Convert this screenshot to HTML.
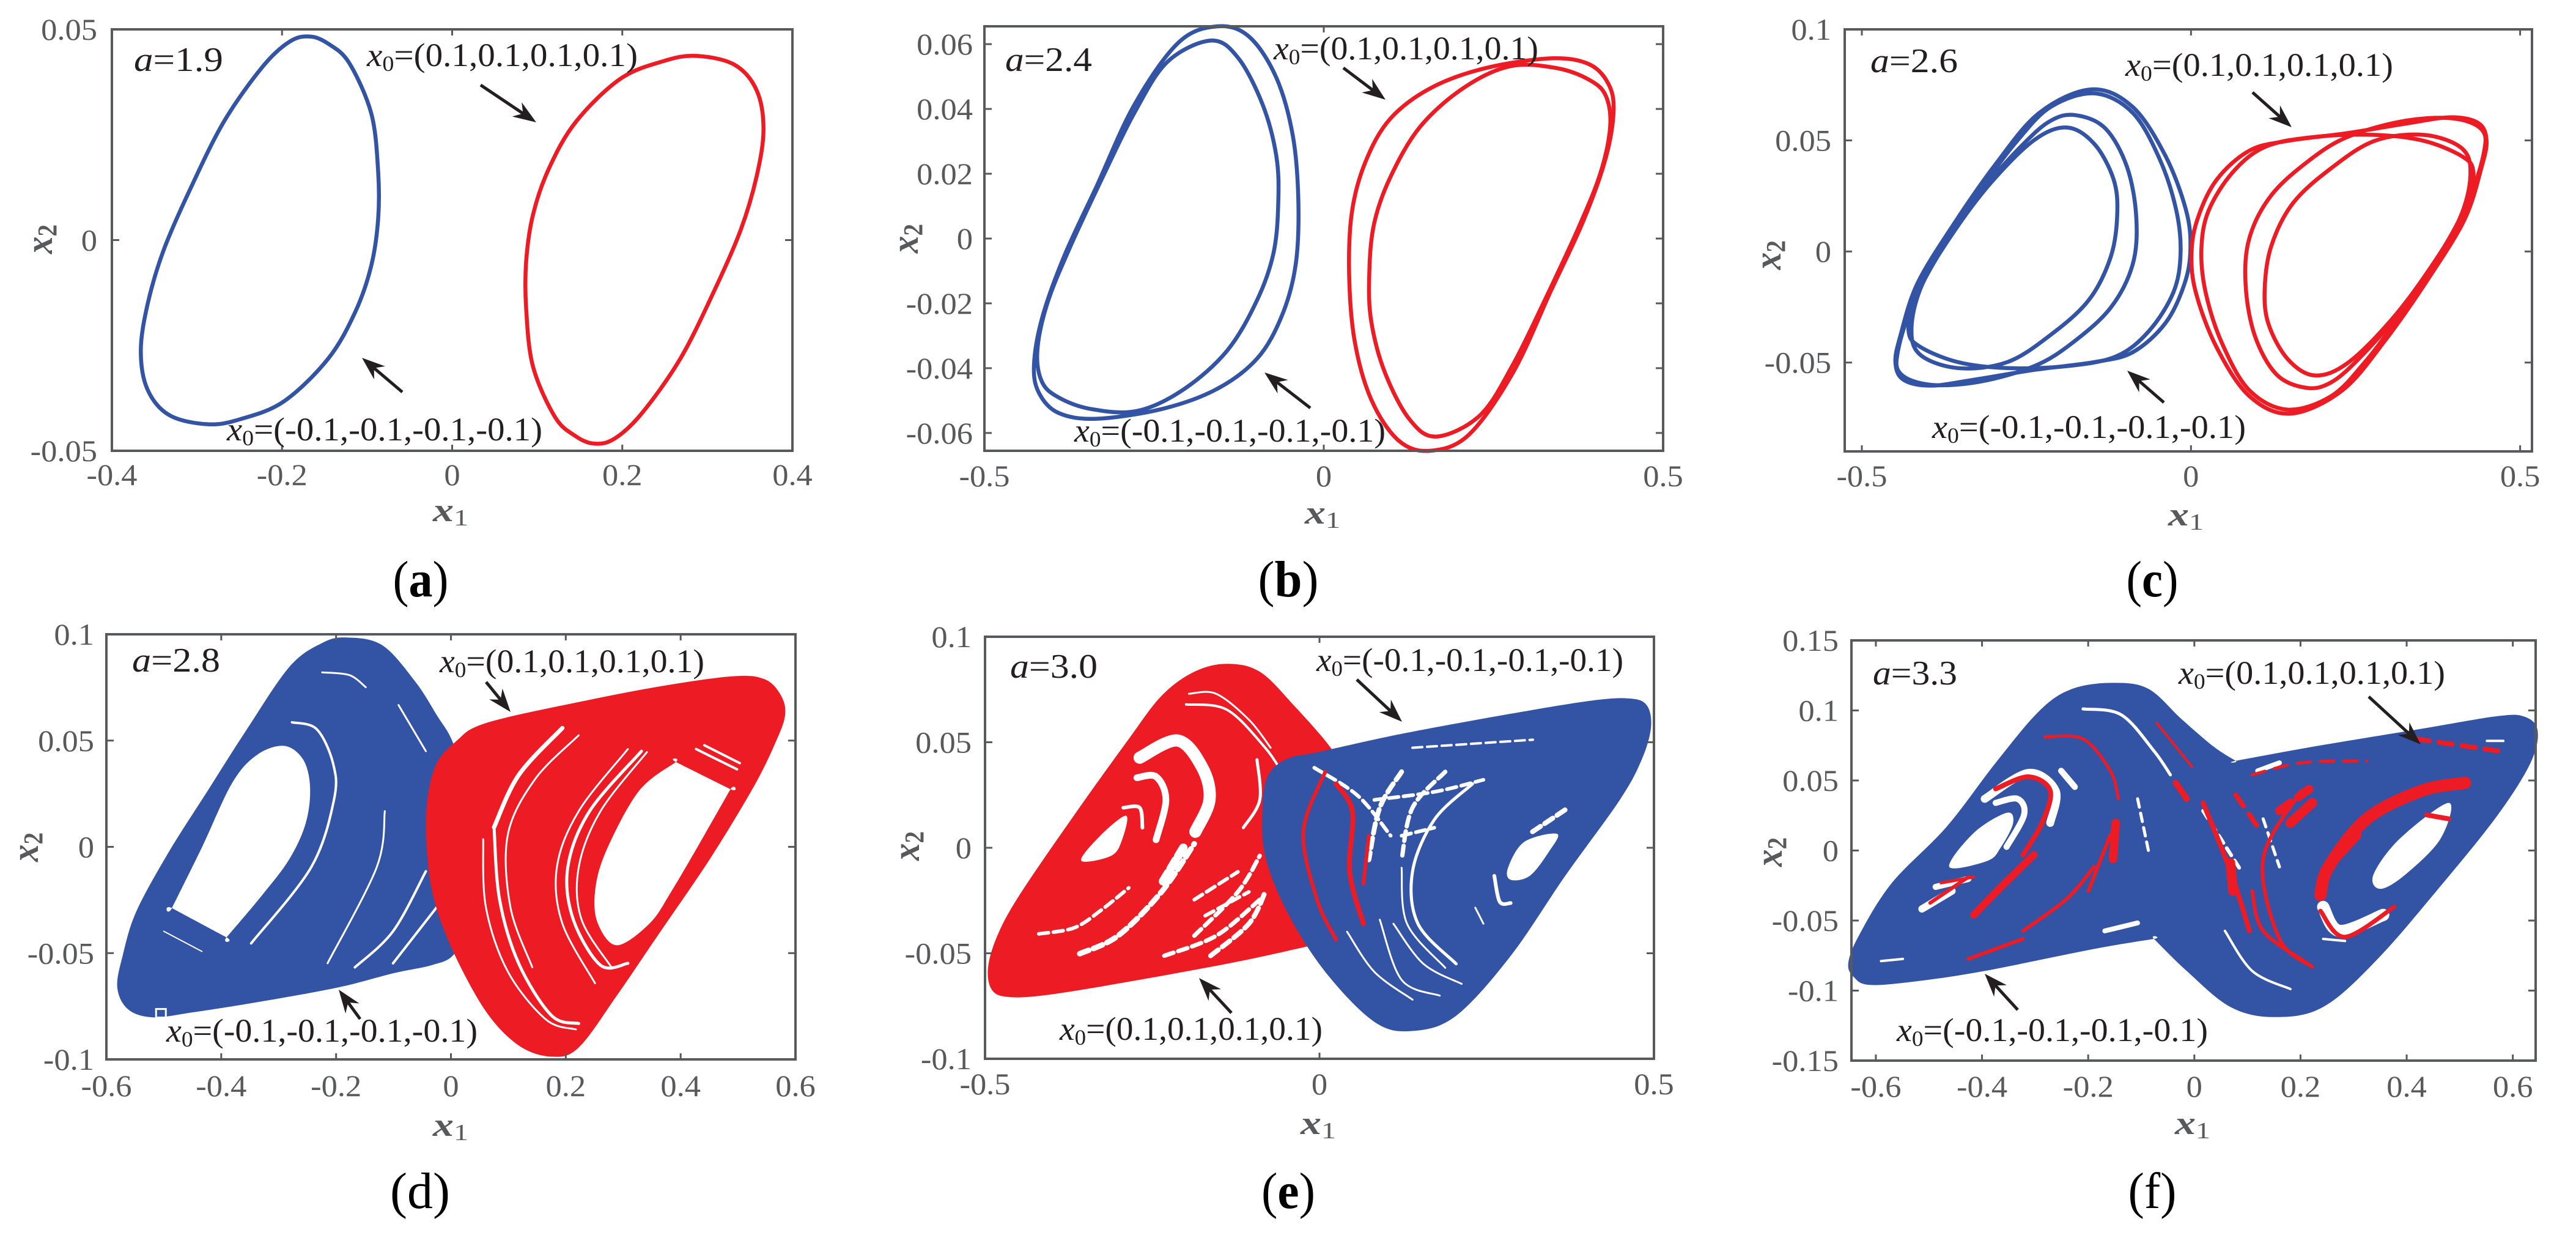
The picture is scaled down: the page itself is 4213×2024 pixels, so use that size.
<!DOCTYPE html>
<html lang="en">
<head>
<meta charset="utf-8">
<title>Phase portraits of x1 and x2 for different values of a</title>
<style>
html,body{margin:0;padding:0;background:#fff;}
svg{display:block;}
text{font-family:"Liberation Serif",serif;}
</style>
</head>
<body>
<svg id="figure" xmlns="http://www.w3.org/2000/svg" width="4213" height="2024" viewBox="0 0 4213 2024"></svg>
<script>
/* ---------- panel (a) ---------- */
const aXTicks=[-0.4,-0.2,0,0.2,0.4];
const aXTickLabels=['-0.4','-0.2','0','0.2','0.4'];
const aYTicks=[0.05,0,-0.05];
const aYTickLabels=['0.05','0','-0.05'];
const aBlueX=[-.167,-.145,-.121,-.095,-.087,-.087,-.095,-.114,-.146,-.198,-.249,-.287,-.332,-.358,-.366,-.358,-.339,-.307,-.268,-.223,-.191];
const aBlueY=[.0483,.0465,.042,.03,.0162,.0051,-.006,-.0171,-.0282,-.0383,-.0425,-.0437,-.0416,-.0355,-.0263,-.0152,-.0023,.0125,.0282,.0411,.0471];
const aRedX=[.167,.145,.121,.095,.087,.087,.095,.114,.146,.198,.249,.287,.332,.358,.366,.358,.339,.307,.268,.223,.191];
const aRedY=[-.0483,-.0465,-.042,-.03,-.0162,-.0051,.006,.0171,.0282,.0383,.0425,.0437,.0416,.0355,.0263,.0152,.0023,-.0125,-.0282,-.0411,-.0471];

/* ---------- panel (b) ---------- */
const bXTicks=[-0.5,0,0.5];
const bXTickLabels=['-0.5','0','0.5'];
const bYTicks=[0.06,0.04,0.02,0,-0.02,-0.04,-0.06];
const bYTickLabels=['0.06','0.04','0.02','0','-0.02','-0.04','-0.06'];
const bBlueOuterX=[-.1565,-.11,-.07,-.0455,-.0374,-.0414,-.0615,-.0977,-.158,-.2385,-.335,-.391,-.4195,-.427,-.4155,-.383,-.335,-.279,-.214];
const bBlueOuterY=[.0655,.0623,.0497,.0316,.0112,-.0081,-.0237,-.0369,-.0465,-.0526,-.0556,-.0538,-.0477,-.0393,-.0249,-.0057,.016,.0413,.0605];
const bBlueInnerX=[-.166,-.126,-.09,-.07,-.067,-.074,-.098,-.142,-.206,-.275,-.343,-.391,-.4155,-.422,-.4075,-.375,-.327,-.279,-.2305];
const bBlueInnerY=[.0611,.0557,.0413,.0256,.0112,-.0044,-.0189,-.0345,-.0465,-.0532,-.0526,-.049,-.0441,-.0345,-.0201,-.0032,.0184,.0388,.0545];
const bRedOuterX=[.1565,.11,.07,.0455,.0374,.0414,.0615,.0977,.158,.2385,.335,.391,.4195,.427,.4155,.383,.335,.279,.214];
const bRedOuterY=[-.0655,-.0623,-.0497,-.0316,-.0112,.0081,.0237,.0369,.0465,.0526,.0556,.0538,.0477,.0393,.0249,.0057,-.016,-.0413,-.0605];
const bRedInnerX=[.166,.126,.09,.07,.067,.074,.098,.142,.206,.275,.343,.391,.4155,.422,.4075,.375,.327,.279,.2305];
const bRedInnerY=[-.0611,-.0557,-.0413,-.0256,-.0112,.0044,.0189,.0345,.0465,.0532,.0526,.049,.0441,.0345,.0201,.0032,-.0184,-.0388,-.0545];

/* ---------- panel (c) ---------- */
const cXTicks=[-0.5,0,0.5];
const cXTickLabels=['-0.5','0','0.5'];
const cYTicks=[0.1,0.05,0,-0.05];
const cYTickLabels=['0.1','0.05','0','-0.05'];
const cBlue1X=[-.151,-.0887,-.039,-.0075,-.0008,-.01,-.039,-.0887,-.1468,-.238,-.329,-.3955,-.437,-.449,-.441,-.416,-.362,-.296,-.23];
const cBlue1Y=[.073,.0651,.0432,.0186,.0011,-.0147,-.0323,-.0454,-.0498,-.0533,-.0577,-.0604,-.0577,-.0498,-.0375,-.0147,.0116,.0396,.0625];
const cBlue2X=[-.1468,-.0887,-.0473,-.0224,-.0158,-.0265,-.0638,-.1136,-.188,-.279,-.354,-.412,-.429,-.42,-.379,-.3126,-.263,-.213];
const cBlue2Y=[.0712,.0625,.0414,.0186,-.0007,-.0182,-.0358,-.0472,-.0516,-.0525,-.0498,-.0428,-.0358,-.02,.0028,.0309,.0502,.0651];
const cBlue3X=[-.1758,-.13,-.097,-.083,-.0887,-.122,-.18,-.238,-.321,-.3955,-.441,-.445,-.42,-.371,-.3126,-.2546,-.213];
const cBlue3Y=[.0614,.0554,.0379,.0151,-.006,-.0253,-.0411,-.0516,-.0586,-.06,-.0551,-.0446,-.0218,.0046,.0291,.0484,.0589];
const cBlue4X=[-.188,-.1468,-.1177,-.112,-.122,-.155,-.213,-.279,-.354,-.412,-.4245,-.408,-.362,-.304,-.238];
const cBlue4Y=[.0558,.0484,.0326,.0168,-.0025,-.0218,-.0375,-.0498,-.0525,-.0463,-.034,-.0147,.0081,.0309,.0502];
const cRed1X=[.151,.0887,.039,.0075,.0008,.01,.039,.0887,.1468,.238,.329,.3955,.437,.449,.441,.416,.362,.296,.23];
const cRed1Y=[-.073,-.0651,-.0432,-.0186,-.0011,.0147,.0323,.0454,.0498,.0533,.0577,.0604,.0577,.0498,.0375,.0147,-.0116,-.0396,-.0625];
const cRed2X=[.1468,.0887,.0473,.0224,.0158,.0265,.0638,.1136,.188,.279,.354,.412,.429,.42,.379,.3126,.263,.213];
const cRed2Y=[-.0712,-.0625,-.0414,-.0186,.0007,.0182,.0358,.0472,.0516,.0525,.0498,.0428,.0358,.02,-.0028,-.0309,-.0502,-.0651];
const cRed3X=[.1758,.13,.097,.083,.0887,.122,.18,.238,.321,.3955,.441,.445,.42,.371,.3126,.2546,.213];
const cRed3Y=[-.0614,-.0554,-.0379,-.0151,.006,.0253,.0411,.0516,.0586,.06,.0551,.0446,.0218,-.0046,-.0291,-.0484,-.0589];
const cRed4X=[.188,.1468,.1177,.112,.122,.155,.213,.279,.354,.412,.4245,.408,.362,.304,.238];
const cRed4Y=[-.0558,-.0484,-.0326,-.0168,.0025,.0218,.0375,.0498,.0525,.0463,.034,.0147,-.0081,-.0309,-.0502];

/* ---------- panel (d) ---------- */
const dXTicks=[-0.6,-0.4,-0.2,0,0.2,0.4,0.6];
const dXTickLabels=['-0.6','-0.4','-0.2','0','0.2','0.4','0.6'];
const dYTicks=[0.1,0.05,0,-0.05,-0.1];
const dYTickLabels=['0.1','0.05','0','-0.05','-0.1'];
const dBlueX=[-.1816,-.1198,-.0628,-.0247,.0038,.0295,.0418,.0418,.0276,.0038,-.0342,-.1008,-.1959,-.329,-.4526,-.5192,-.562,-.581,-.5715,-.5477,-.4906,-.4241,-.3575,-.2815,-.2244];
const dBlueY=[.0985,.0949,.078,.062,.0488,.0247,.0021,-.0205,-.0379,-.051,-.0557,-.0595,-.0661,-.0727,-.078,-.0802,-.0765,-.0661,-.051,-.0303,-.0021,.0262,.0544,.0846,.0959];
const dBlueHoleX=[-.291,-.2577,-.2453,-.2529,-.2815,-.329,-.3908,-.3908,-.4859,-.4859,-.4336,-.3813,-.3385];
const dBlueHoleY=[.0475,.0412,.0281,.0111,-.0058,-.0228,-.0426,-.0426,-.0288,-.0288,-.0002,.0299,.0431];
const dRedX=[.0133,.0418,.0989,.213,.3556,.4887,.5458,.5743,.5819,.5648,.5268,.4507,.3556,.2891,.2225,.175,.1179,.0609,.0038,-.0295,-.0418,-.0418,-.0247];
const dRedY=[.0507,.0563,.061,.0676,.0751,.0802,.0789,.0714,.062,.0488,.0281,-.0058,-.0435,-.0699,-.0944,-.0987,-.0934,-.0774,-.0492,-.0247,-.0021,.0205,.0394];
const dRedHoleX=[.3917,.3917,.4868,.4868,.4412,.3841,.3461,.2891,.2558,.251,.27,.3271];
const dRedHoleY=[.0399,.0399,.0271,.0271,.0055,-.0209,-.036,-.0463,-.036,-.0209,-.0021,.0262];
const dBlueGaps=[
 [[-.2767,.0586],[-.2339,.0554],[-.2054,.0394],[-.2035,.0224],[-.2434,-.0096],[-.348,-.0454]],
 [[-.2244,.0821],[-.1769,.0808],[-.1483,.0751]],
 [[-.0913,.0667],[-.0437,.045]],
 [[-.1151,.0168],[-.1293,-.0096],[-.2149,-.0548]],
 [[-.0437,-.0115],[-.1008,-.0397],[-.1673,-.0567]],
 [[-.0247,-.0284],[-.1008,-.0548]],
 [[-.5001,-.0397],[-.4336,-.0492]]
];
const dRedGaps=[
 [[.0561,.0036],[.0609,-.0284],[.0989,-.0586],[.1654,-.0812],[.2177,-.0859]],
 [[.0751,.0092],[.0846,-.0247],[.1179,-.0548],[.175,-.0793],[.2225,-.0831]],
 [[.194,.0559],[.1179,.0337],[.0751,.0092]],
 [[.2225,.0525],[.1464,.0318],[.0989,.0055],[.1036,-.0284],[.1417,-.0567]],
 [[.3081,.046],[.2225,.0168],[.1845,-.0096],[.194,-.036],[.251,-.0642]],
 [[.3318,.045],[.2415,.0168],[.2035,-.0096],[.213,-.0341],[.2605,-.0557],[.3081,-.0548]],
 [[.3414,.0446],[.2605,.0168],[.2225,-.0096],[.2273,-.0341],[.2796,-.0567]],
 [[.4412,.0478],[.503,.0394]],
 [[.4269,.046],[.4982,.0365]]
];
const dMarkerPoint=[-.505,-.0783];

/* ---------- panel (e) ---------- */
const eXTicks=[-0.5,0,0.5];
const eXTickLabels=['-0.5','0','0.5'];
const eYTicks=[0.1,0.05,0,-0.05,-0.1];
const eYTickLabels=['0.1','0.05','0','-0.05','-0.1'];
const eRedX=[-.1383,-.0893,-.0404,.0167,.0485,.0812,.0852,.0771,.0485,-.0004,-.1228,-.2859,-.4082,-.4653,-.4898,-.4955,-.4816,-.449,-.3674,-.2859,-.2361,-.1872];
const eRedY=[.0872,.0834,.0682,.0474,.0303,.0038,-.019,-.0341,-.0421,-.0455,-.054,-.0635,-.0698,-.0707,-.0673,-.0569,-.0417,-.0227,.0152,.0512,.072,.0834];
const eRedHoleX=[-.2892,-.2951,-.3113,-.3562,-.3277];
const eRedHoleY=[.0152,.0038,-.0038,-.0061,.0057];
const eBlueX=[.4653,.4898,.4955,.4816,.449,.3674,.2859,.2043,.1391,.082,.0086,-.0485,-.0812,-.0852,-.0771,-.0485,.0004,.1228,.2859,.4082];
const eBlueY=[.0707,.0673,.0569,.0417,.0227,-.0133,-.0512,-.0796,-.0868,-.0825,-.0588,-.0303,-.0038,.019,.0341,.0421,.0455,.054,.0635,.0698];
const eBlueHoleX=[.3552,.3429,.3144,.2858,.2818,.3062];
const eBlueHoleY=[.0066,-.0019,-.0133,-.0152,-.0095,.0028];
const eRedGaps=[
 [[-.2688,.0427],[-.2117,.0508],[-.175,.0379],[-.1644,.0227],[-.1856,.0076]],
 [[-.2729,.0332],[-.2443,.0337],[-.2296,.0227],[-.2443,.0038]],
 [[-.2933,.019],[-.2688,.019],[-.2647,.0095]],
 [[-.1994,.0679],[-.1383,.0654],[-.0812,.0474],[-.0567,.036]],
 [[-.1953,.073],[-.1546,.073],[-.1056,.0607],[-.073,.0474]],
 [[-.1138,.0095],[-.0893,.0227],[-.0934,.0417]]
];
const eRedDashedGaps=[
 [[-.4196,-.0408],[-.3666,-.0379],[-.3258,-.0294],[-.2851,-.019]],
 [[-.3584,-.0502],[-.3013,-.0417],[-.2362,-.0209],[-.1872,.0019]],
 [[-.2321,-.0512],[-.1546,-.0417],[-.0893,-.0246]],
 [[-.1872,-.0417],[-.1219,-.0209],[-.0893,-.0038]],
 [[-.2036,0],[-.2362,-.0171]],
 [[-.1628,-.0512],[-.1056,-.036],[-.0811,-.0209]],
 [[-.1709,-.0322],[-.1056,-.0209]],
 [[-.1872,-.0246],[-.1219,-.0114]]
];
const eBlueGaps=[
 [[.2288,.0303],[.1717,.0133],[.139,-.0114],[.1472,-.036],[.2043,-.055]],
 [[.0901,-.0341],[.1228,-.0626],[.1798,-.0701]],
 [[.1228,-.0095],[.1309,-.036],[.188,-.0569]],
 [[.2613,-.0133],[.2695,-.0256],[.2858,-.0262]],
 [[.0412,-.0398],[.082,-.0588],[.1391,-.072]],
 [[.1105,-.036],[.1554,-.055],[.2125,-.0645]],
 [[.2329,-.0284],[.2451,-.036]]
];
const eBlueDashedGaps=[
 [[.1228,.036],[.0901,.019],[.0738,-.0057]],
 [[.188,.036],[.139,.019],[.1228,-.0057]],
 [[.139,.0474],[.319,.0512]],
 [[.3185,.0076],[.3674,.018]],
 [[.082,.0227],[.1717,.0265],[.2451,.0322]],
 [[.1228,.0057],[.1717,.0095]],
 [[-.0078,.0379],[.0575,.0246],[.1064,.0057]]
];
const eRedStreaks=[
 [[.0086,.036],[-.0241,.0076],[-.0037,-.0246],[.0249,-.0436]],
 [[.0249,.0303],[.0493,.0171],[.0452,-.0114],[.0656,-.036]],
 [[.0738,.0057],[.0656,-.0171]]
];

/* ---------- panel (f) ---------- */
const fXTicks=[-0.6,-0.4,-0.2,0,0.2,0.4,0.6];
const fXTickLabels=['-0.6','-0.4','-0.2','0','0.2','0.4','0.6'];
const fYTicks=[0.15,0.1,0.05,0,-0.05,-0.1,-0.15];
const fYTickLabels=['0.15','0.1','0.05','0','-0.05','-0.1','-0.15'];
const fBlueX=[-.1532,-.0864,-.0247,.037,.0781,.0781,.2221,.4278,.5717,.6231,.6468,.6334,.5717,.4689,.3455,.2427,.1501,.0679,-.0144,-.0761,-.0761,-.1892,-.3949,-.5183,-.6108,-.6416,-.6519,-.6314,-.5697,-.4668,-.3743,-.292,-.2303];
const fBlueY=[.1197,.1154,.094,.074,.064,.064,.074,.0869,.096,.0954,.0854,.0626,.0254,-.0231,-.0774,-.1117,-.1189,-.1117,-.086,-.0631,-.0631,-.0703,-.086,-.0931,-.096,-.0903,-.0803,-.0603,-.0231,.0169,.0626,.0997,.1154];
const fLeftHoleX=[-.3537,-.3414,-.364,-.3897,-.4617,-.4154];
const fLeftHoleY=[.0269,.0197,.0026,-.0074,-.0117,.0126];
const fRightHoleX=[.4792,.4637,.3969,.3506,.3373,.3866];
const fRightHoleY=[.034,.0083,-.0174,-.0274,-.0174,.0083];
const fWhiteGaps=[
 [[-.3949,.0369],[-.3126,.0554],[-.2612,.0426],[-.2715,.0197]],
 [[-.3743,.034],[-.3331,.0369],[-.3208,.0254],[-.3537,.0026]],
 [[-.5131,-.0417],[-.4566,-.0289]],
 [[-.1686,-.0574],[-.107,-.0517]],
 [[-.2098,.1011],[-.1378,.0969],[-.0761,.0711],[-.0452,.054]],
 [[.1193,.0569],[.1604,.0626]],
 [[.0576,-.0574],[.109,-.086],[.181,-.0989]],
 [[.5512,.0783],[.5821,.0783]],
 [[-.5902,-.0789],[-.5491,-.0774]],
 [[.2427,-.0403],[.2735,-.0574],[.3558,-.046]],
 [[-.2509,.0569],[-.2252,.0454]],
 [[-.4874,-.026],[-.4257,-.0203]],
 [[.2427,-.0631],[.2838,-.0646]]
];
const fWhiteDashedGaps=[
 [[.0165,.0283],[.0884,-.0146]],
 [[.1296,.0226],[.1604,-.0117]],
 [[-.1069,.0369],[-.0864,-.0003]]
];
const fRedStreaks=[
 [[-.3744,.044],[-.3126,.0526],[-.2715,.0426],[-.2869,.0197],[-.3229,-.0031]],
 [[-.4977,-.0374],[-.4257,-.0189]],
 [[-.4771,-.0231],[-.4154,-.0189]],
 [[-.2817,.0811],[-.2098,.0797],[-.1584,.0569],[-.1429,.0369]],
 [[-.071,.0911],[-.0041,.0597]],
 [[-.1481,.0197],[-.1532,-.006]],
 [[-.3023,-.0031],[-.364,-.026],[-.4154,-.046]],
 [[-.1892,-.0117],[-.2406,-.0346],[-.3229,-.0574]],
 [[-.4257,-.0774],[-.3229,-.0631]],
 [[.51,.0483],[.4278,.0426],[.3249,.0226],[.253,-.0117],[.2375,-.0317]],
 [[.2375,-.0431],[.2838,-.0617],[.3763,-.0403]],
 [[.2015,.0426],[.1296,-.006],[.1604,-.0631],[.2221,-.0831]],
 [[.0165,.034],[.0679,-.0146],[.1039,-.0574]],
 [[.438,.0254],[.4792,.0226]],
 [[-.035,.0483],[-.0144,.0369]],
 [[.109,-.0289],[.1296,-.0574],[.2118,-.0803]],
 [[.0679,-.0089],[.073,-.0289]],
 [[.3044,.0111],[.2632,-.006]],
 [[.2221,.034],[.181,.0197]],
 [[-.1584,.0111],[-.1995,-.0289]]
];
const fRedDashedStreaks=[
 [[.4175,.0797],[.5717,.0711]],
 [[.109,.054],[.2015,.0626],[.3249,.064]],
 [[.1604,.0283],[.2221,.0454]],
 [[.0781,.0397],[.1193,.0169]]
];

/* ---------- panel layout (pixels) ---------- */
const BLUE='#3353a4', RED='#ed1c24', GREY='#58595b', INK='#231f20', WHITE='#ffffff';
const TOP_IC='0.1,0.1,0.1,0.1', NEG_IC='-0.1,-0.1,-0.1,-0.1';

const panels=[
 {id:'a',left:183,right:1296,top:48,bottom:737,xMin:-.4,xMax:.4,yMin:-.05,yMax:.05,
  xTicks:aXTicks,xLabels:aXTickLabels,yTicks:aYTicks,yLabels:aYTickLabels,
  yLabelRight:159,xLabelBase:793,xTitle:[737,852],yTitle:[85,391],caption:[688,975,91,'bold'],
  param:['a=','1.9',219,116,146],
  notes:[[TOP_IC,600,108,443],[NEG_IC,371,720,516]],
  arrows:[[786,139,877,200],[658,641,592,585]],
  lines:[['blue-limit-cycle',aBlueX,aBlueY,BLUE],['red-limit-cycle',aRedX,aRedY,RED]]},
 {id:'b',left:1610,right:2720,top:43,bottom:737,xMin:-.5,xMax:.5,yMin:-.0655,yMax:.0655,
  xTicks:bXTicks,xLabels:bXTickLabels,yTicks:bYTicks,yLabels:bYTickLabels,
  yLabelRight:1591,xLabelBase:795,xTitle:[2163,856],yTitle:[1501,390],caption:[2107,975,99,'bold'],
  param:['a=','2.4',1644,116,142],
  notes:[[TOP_IC,2083,97,433],[NEG_IC,1757,722,509]],
  arrows:[[2197,111,2266,163],[2143,667,2068,609]],
  lines:[['blue-outer-loop',bBlueOuterX,bBlueOuterY,BLUE],['blue-inner-loop',bBlueInnerX,bBlueInnerY,BLUE],
         ['red-outer-loop',bRedOuterX,bRedOuterY,RED],['red-inner-loop',bRedInnerX,bRedInnerY,RED]]},
 {id:'c',left:3017,right:4141,top:48,bottom:738,xMin:-.526,xMax:.518,yMin:-.09,yMax:.1,
  xTicks:cXTicks,xLabels:cXTickLabels,yTicks:cYTicks,yLabels:cYTickLabels,
  yLabelRight:2995,xLabelBase:795,xTitle:[3575,859],yTitle:[2912,417],caption:[3520,975,85,'bold'],
  param:['a=','2.6',3059,118,143],
  notes:[[TOP_IC,3476,124,438],[NEG_IC,3160,716,513]],
  arrows:[[3684,151,3748,208],[3539,658,3479,606]],
  lines:[['blue-loop-1',cBlue1X,cBlue1Y,BLUE],['blue-loop-2',cBlue2X,cBlue2Y,BLUE],['blue-loop-3',cBlue3X,cBlue3Y,BLUE],['blue-loop-4',cBlue4X,cBlue4Y,BLUE],
         ['red-loop-1',cRed1X,cRed1Y,RED],['red-loop-2',cRed2X,cRed2Y,RED],['red-loop-3',cRed3X,cRed3Y,RED],['red-loop-4',cRed4X,cRed4Y,RED]]},
 {id:'d',left:174,right:1301,top:1037,bottom:1732,xMin:-.6,xMax:.6,yMin:-.1,yMax:.1,
  xTicks:dXTicks,xLabels:dXTickLabels,yTicks:dYTicks,yLabels:dYTickLabels,
  yLabelRight:154,xLabelBase:1792,xTitle:[737,1857],yTitle:[62,1385],caption:[687,1975,98,'normal'],
  param:['a=','2.8',216,1098,144],
  notes:[[TOP_IC,719,1099,433],[NEG_IC,272,1703,509]],
  arrows:[[795,1115,835,1164],[589,1666,554,1618]],
  layers:[
   {kind:'area',name:'blue-attractor',xs:dBlueX,ys:dBlueY,holes:[[dBlueHoleX,dBlueHoleY]],color:BLUE},
   {kind:'strokes',name:'blue-attractor-gap',data:dBlueGaps,widths:[4,3,3,3,4,4,2],color:WHITE},
   {kind:'area',name:'red-attractor',xs:dRedX,ys:dRedY,holes:[[dRedHoleX,dRedHoleY]],color:RED},
   {kind:'strokes',name:'red-attractor-gap',data:dRedGaps,widths:[3,5,7,3,3,5,3,4,4],color:WHITE}
  ],
  marker:dMarkerPoint},
 {id:'e',left:1611,right:2705,top:1041,bottom:1731,xMin:-.5,xMax:.5,yMin:-.1,yMax:.1,
  xTicks:eXTicks,xLabels:eXTickLabels,yTicks:eYTicks,yLabels:eYTickLabels,
  yLabelRight:1589,xLabelBase:1789,xTitle:[2156,1854],yTitle:[1503,1383],caption:[2107,1975,88,'bold'],
  param:['a=','3.0',1652,1108,143],
  notes:[[NEG_IC,2153,1097,502],[TOP_IC,1733,1700,430]],
  arrows:[[2219,1111,2293,1180],[2014,1656,1961,1599]],
  layers:[
   {kind:'area',name:'red-attractor',xs:eRedX,ys:eRedY,holes:[[eRedHoleX,eRedHoleY]],color:RED},
   {kind:'strokes',name:'red-attractor-gap',data:eRedGaps,widths:[20,11,6,4,3,5],color:WHITE},
   {kind:'strokes',name:'red-attractor-broken-gap',data:eRedDashedGaps,widths:[6,9,7,7,14,8,6,6],color:WHITE,dash:'16 8'},
   {kind:'area',name:'blue-attractor',xs:eBlueX,ys:eBlueY,holes:[[eBlueHoleX,eBlueHoleY]],color:BLUE},
   {kind:'strokes',name:'blue-attractor-gap',data:eBlueGaps,widths:[5,3,3,6,3,3,3],color:WHITE},
   {kind:'strokes',name:'blue-attractor-broken-gap',data:eBlueDashedGaps,widths:[8,7,4,8,6,6,6],color:WHITE,dash:'16 8'},
   {kind:'strokes',name:'red-streak',data:eRedStreaks,widths:[6,8,6],color:RED}
  ]},
 {id:'f',left:3028,right:4147,top:1047,bottom:1734,xMin:-.646,xMax:.643,yMin:-.15,yMax:.15,
  xTicks:fXTicks,xLabels:fXTickLabels,yTicks:fYTicks,yLabels:fYTickLabels,
  yLabelRight:3007,xLabelBase:1793,xTitle:[3586,1854],yTitle:[2914,1393],caption:[3520,1975,79,'normal'],
  param:['a=','3.3',3063,1119,138],
  notes:[[TOP_IC,3563,1118,436],[NEG_IC,3102,1702,509]],
  arrows:[[3874,1139,3959,1217],[3300,1651,3246,1592]],
  layers:[
   {kind:'area',name:'blue-attractor',xs:fBlueX,ys:fBlueY,holes:[[fLeftHoleX,fLeftHoleY],[fRightHoleX,fRightHoleY]],color:BLUE},
   {kind:'strokes',name:'attractor-gap',data:fWhiteGaps,widths:[13,10,12,8,5,8,4,4,4,20,10,10,4],color:WHITE},
   {kind:'strokes',name:'attractor-broken-gap',data:fWhiteDashedGaps,widths:[6,5,5],color:WHITE,dash:'14 10'},
   {kind:'strokes',name:'red-streak',data:fRedStreaks,widths:[8,6,5,5,4,14,12,6,6,20,7,6,8,8,10,6,16,18,16,6],color:RED},
   {kind:'strokes',name:'red-broken-streak',data:fRedDashedStreaks,widths:[8,5,14,8],color:RED,dash:'22 16'}
  ]}
];

/* ---------- drawing helpers ---------- */
const SVGNS='http://www.w3.org/2000/svg';
const figure=document.getElementById('figure');

function create(parent,tag,name,interactable){
  const el=document.createElementNS(SVGNS,tag);
  
  
  parent.appendChild(el);
  return el;
}
function spline(pts,closed){
  const n=pts.length;
  const at=i=>closed?pts[(i+n)%n]:pts[Math.max(0,Math.min(n-1,i))];
  let d='M'+pts[0][0].toFixed(1)+' '+pts[0][1].toFixed(1);
  const end=closed?n:n-1;
  for(let i=0;i<end;i++){
    const p0=at(i-1),p1=at(i),p2=at(i+1),p3=at(i+2);
    const c1x=p1[0]+(p2[0]-p0[0])/6,c1y=p1[1]+(p2[1]-p0[1])/6;
    const c2x=p2[0]-(p3[0]-p1[0])/6,c2y=p2[1]-(p3[1]-p1[1])/6;
    d+='C'+c1x.toFixed(1)+' '+c1y.toFixed(1)+' '+c2x.toFixed(1)+' '+c2y.toFixed(1)+' '+p2[0].toFixed(1)+' '+p2[1].toFixed(1);
  }
  return d+(closed?'Z':'');
}
function label(parent,name,str,x,y,size,fill,anchor,stretch){
  const t=create(parent,'text',name,false);
  t.setAttribute('transform','translate('+x+' '+y+') scale('+stretch+' 1)');
  t.setAttribute('font-size',size);
  t.setAttribute('fill',fill);
  t.setAttribute('text-anchor',anchor);
  t.textContent=str;
  return t;
}
function fit(t,len){
  t.setAttribute('textLength',len);
  t.setAttribute('lengthAdjust','spacingAndGlyphs');
}
function span(t,str,style,weight,dy,size){
  const s=document.createElementNS(SVGNS,'tspan');
  if(style)s.setAttribute('font-style',style);
  if(weight)s.setAttribute('font-weight',weight);
  if(dy)s.setAttribute('dy',dy);
  if(size)s.setAttribute('font-size',size);
  s.textContent=str;
  t.appendChild(s);
}

function drawPanel(p){
  const g=create(figure,'g','panel-'+p.id,false);
  const sx=v=>p.left+(v-p.xMin)/(p.xMax-p.xMin)*(p.right-p.left);
  const sy=v=>p.bottom-(v-p.yMin)/(p.yMax-p.yMin)*(p.bottom-p.top);
  const project=(xs,ys)=>xs.map((v,i)=>[sx(v),sy(ys[i])]);

  /* line series */
  (p.lines||[]).forEach(line=>{
    const path=create(g,'path',line[0],false);
    path.setAttribute('d',spline(project(line[1],line[2]),true));
    path.setAttribute('fill','none');
    path.setAttribute('stroke',line[3]);
    path.setAttribute('stroke-width','6.5');
    path.setAttribute('stroke-linejoin','round');
  });

  /* filled attractors and stripes */
  (p.layers||[]).forEach(layer=>{
    if(layer.kind==='area'){
      const path=create(g,'path',layer.name,false);
      let d=spline(project(layer.xs,layer.ys),true);
      layer.holes.forEach(h=>{d+=spline(project(h[0],h[1]),true);});
      path.setAttribute('d',d);
      path.setAttribute('fill',layer.color);
      path.setAttribute('fill-rule','evenodd');
    }else{
      layer.data.forEach((pts,i)=>{
        const path=create(g,'path',layer.name+'-'+(i+1),false);
        path.setAttribute('d',spline(pts.map(q=>[sx(q[0]),sy(q[1])]),false));
        path.setAttribute('fill','none');
        path.setAttribute('stroke',layer.color);
        path.setAttribute('stroke-width',layer.widths[i]);
        path.setAttribute('stroke-linecap','round');
        if(layer.dash)path.setAttribute('stroke-dasharray',layer.dash);
      });
    }
  });

  if(p.marker){
    const m=create(g,'rect','initial-point-marker',false);
    m.setAttribute('x',sx(p.marker[0])-8);
    m.setAttribute('y',sy(p.marker[1])-7);
    m.setAttribute('width',16);
    m.setAttribute('height',14);
    m.setAttribute('fill','none');
    m.setAttribute('stroke',WHITE);
    m.setAttribute('stroke-width',3);
  }

  /* frame */
  const frame=create(g,'rect','plot-frame',false);
  frame.setAttribute('x',p.left);
  frame.setAttribute('y',p.top);
  frame.setAttribute('width',p.right-p.left);
  frame.setAttribute('height',p.bottom-p.top);
  frame.setAttribute('fill','none');
  frame.setAttribute('stroke',GREY);
  frame.setAttribute('stroke-width',4);

  /* ticks and labels */
  const tick=(name,x1,y1,x2,y2)=>{
    const l=create(g,'line',name,false);
    l.setAttribute('x1',x1);
    l.setAttribute('y1',y1);
    l.setAttribute('x2',x2);
    l.setAttribute('y2',y2);
    l.setAttribute('stroke',GREY);
    l.setAttribute('stroke-width',3);
  };
  p.xTicks.forEach((v,i)=>{
    const x=sx(v);
    tick('x-tick-bottom',x,p.bottom,x,p.bottom-10);
    tick('x-tick-top',x,p.top,x,p.top+10);
    label(g,'x-tick-label',p.xLabels[i],x,p.xLabelBase,50,GREY,'middle',1.05);
  });
  p.yTicks.forEach((v,i)=>{
    const y=sy(v);
    tick('y-tick-left',p.left,y,p.left+12,y);
    tick('y-tick-right',p.right,y,p.right-12,y);
    label(g,'y-tick-label',p.yLabels[i],p.yLabelRight,y+17,50,GREY,'end',1.05);
  });

  /* axis titles */
  const xt=label(g,'x-axis-title','',p.xTitle[0],p.xTitle[1],54,GREY,'middle',1);
  span(xt,'x','italic','bold');
  span(xt,'1',null,null,'7','38');
  fit(xt,58);
  const yt=create(g,'text','y-axis-title',false);
  yt.setAttribute('transform','translate('+p.yTitle[0]+' '+p.yTitle[1]+') rotate(-90)');
  yt.setAttribute('font-size',64);
  yt.setAttribute('fill',GREY);
  yt.setAttribute('text-anchor','middle');
  span(yt,'x','italic','bold');
  span(yt,'2',null,'bold','7','44');
  fit(yt,48);

  /* parameter annotation */
  const pa=label(g,'parameter-label','',p.param[2],p.param[3],56,INK,'start',1);
  span(pa,'a','italic');
  span(pa,'='+p.param[1]);
  fit(pa,p.param[4]);

  /* initial condition notes */
  p.notes.forEach(n=>{
    const t=label(g,'initial-condition-label','',n[1],n[2],54,INK,'start',1);
    span(t,'x','italic');
    span(t,'0',null,null,'8','36');
    span(t,'=('+n[0]+')',null,null,'-8','54');
    fit(t,n[3]);
  });

  /* arrows */
  p.arrows.forEach(a=>{
    const dx=a[2]-a[0],dy=a[3]-a[1],len=Math.hypot(dx,dy),ux=dx/len,uy=dy/len,nx=-uy,ny=ux;
    const shaft=create(g,'line','annotation-arrow-shaft',false);
    shaft.setAttribute('x1',a[0]);
    shaft.setAttribute('y1',a[1]);
    shaft.setAttribute('x2',a[2]-ux*20);
    shaft.setAttribute('y2',a[3]-uy*20);
    shaft.setAttribute('stroke',INK);
    shaft.setAttribute('stroke-width',5);
    const hl=38,hw=14,notch=26;
    const headPts=[[a[2],a[3]],
      [a[2]-ux*hl+nx*hw,a[3]-uy*hl+ny*hw],
      [a[2]-ux*notch,a[3]-uy*notch],
      [a[2]-ux*hl-nx*hw,a[3]-uy*hl-ny*hw]];
    const head=create(g,'polygon','annotation-arrow-head',false);
    head.setAttribute('points',headPts.map(q=>q[0].toFixed(1)+','+q[1].toFixed(1)).join(' '));
    head.setAttribute('fill',INK);
  });

  /* sub-figure caption */
  const cap=label(g,'subfigure-caption','',p.caption[0],p.caption[1],84,'#000','middle',1);
  span(cap,'(');
  span(cap,p.id,null,p.caption[3]);
  span(cap,')');
  fit(cap,p.caption[2]);
}
panels.forEach(drawPanel);
</script>
</body>
</html>
